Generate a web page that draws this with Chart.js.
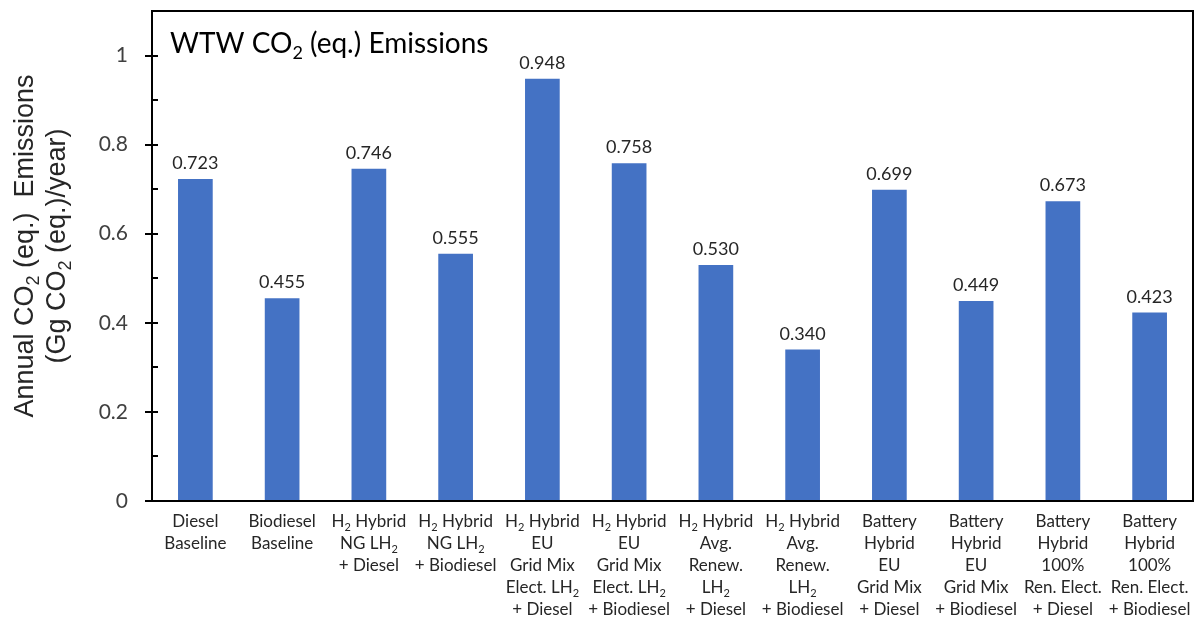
<!DOCTYPE html>
<html>
<head>
<meta charset="utf-8">
<script src="https://cdn.jsdelivr.net/npm/chart.js@4/dist/chart.umd.min.js"></script>
<style>
html,body{margin:0;padding:0;background:#fff;}
#wrap{width:1196px;height:617px;}
</style>
</head>
<body>
<div id="wrap"><canvas id="c" width="1196" height="617"></canvas></div>
<script>
const categories = [
  ["Diesel","Baseline"],
  ["Biodiesel","Baseline"],
  ["H₂ Hybrid","NG LH₂","+ Diesel"],
  ["H₂ Hybrid","NG LH₂","+ Biodiesel"],
  ["H₂ Hybrid","EU","Grid Mix","Elect. LH₂","+ Diesel"],
  ["H₂ Hybrid","EU","Grid Mix","Elect. LH₂","+ Biodiesel"],
  ["H₂ Hybrid","Avg.","Renew.","LH₂","+ Diesel"],
  ["H₂ Hybrid","Avg.","Renew.","LH₂","+ Biodiesel"],
  ["Battery","Hybrid","EU","Grid Mix","+ Diesel"],
  ["Battery","Hybrid","EU","Grid Mix","+ Biodiesel"],
  ["Battery","Hybrid","100%","Ren. Elect.","+ Diesel"],
  ["Battery","Hybrid","100%","Ren. Elect.","+ Biodiesel"]
];
const emissions = [0.723, 0.455, 0.746, 0.555, 0.948, 0.758, 0.530, 0.340, 0.699, 0.449, 0.673, 0.423];
const yTickLabels = ["0","0.2","0.4","0.6","0.8","1"];
const chartTitle = "WTW CO₂ (eq.) Emissions";
const yTitleLines = ["Annual CO₂ (eq.)  Emissions", "(Gg CO₂ (eq.)/year)"];

const LABEL_FONT = "Lato";

function richWidth(ctx, str, size, family) {
  let w = 0;
  const parts = str.split("₂");
  parts.forEach((p, i) => {
    ctx.font = size + "px " + family;
    w += ctx.measureText(p).width;
    if (i < parts.length - 1) {
      ctx.font = Math.round(size * 0.65) + "px " + family;
      w += ctx.measureText("2").width;
    }
  });
  return w;
}
function drawRich(ctx, str, x, y, size, family, align) {
  const w = richWidth(ctx, str, size, family);
  let cx = align === "center" ? x - w / 2 : (align === "right" ? x - w : x);
  ctx.textAlign = "left";
  const parts = str.split("₂");
  parts.forEach((p, i) => {
    ctx.font = size + "px " + family;
    ctx.fillText(p, cx, y);
    cx += ctx.measureText(p).width;
    if (i < parts.length - 1) {
      const ss = Math.round(size * 0.65);
      ctx.font = ss + "px " + family;
      ctx.fillText("2", cx, y + size * 0.22);
      cx += ctx.measureText("2").width;
    }
  });
}

const decor = {
  id: "decor",
  afterDraw(chart) {
    const ctx = chart.ctx;
    const a = chart.chartArea;
    const y = chart.scales.y, x = chart.scales.x;
    ctx.save();
    ctx.strokeStyle = "#000";
    ctx.lineWidth = 2;
    ctx.strokeRect(a.left, a.top, a.right - a.left, a.bottom - a.top);
    for (let k = 0; k <= 11; k++) {
      const v = k / 10;
      const py = Math.round(y.getPixelForValue(v));
      ctx.beginPath();
      if (k % 2 === 0) { ctx.moveTo(a.left - 7, py); ctx.lineTo(a.left + 6, py); }
      else { ctx.moveTo(a.left, py); ctx.lineTo(a.left + 6, py); }
      ctx.stroke();
    }
    ctx.fillStyle = "#000";
    ctx.textBaseline = "alphabetic";
    drawRich(ctx, chartTitle, a.left + 18, 53, 28, LABEL_FONT, "left");
    ctx.fillStyle = "#262626";
    categories.forEach((lines, i) => {
      const px = x.getPixelForValue(i);
      lines.forEach((ln, j) => {
        drawRich(ctx, ln, px, 527 + j * 22, 17, LABEL_FONT, "center");
      });
    });
    const meta = chart.getDatasetMeta(0);
    meta.data.forEach((bar, i) => {
      drawRich(ctx, emissions[i].toFixed(3), bar.x, bar.y - 10, 18, LABEL_FONT, "center");
    });
    ctx.fillStyle = "#262626";
    const cy = 246;
    ctx.save();
    ctx.translate(33, cy);
    ctx.rotate(-Math.PI / 2);
    drawRich(ctx, yTitleLines[0], 0, 0, 27, "Liberation Sans", "center");
    ctx.restore();
    ctx.save();
    ctx.translate(65, cy);
    ctx.rotate(-Math.PI / 2);
    drawRich(ctx, yTitleLines[1], 0, 0, 27, "Liberation Sans", "center");
    ctx.restore();
    ctx.restore();
  }
};

new Chart(document.getElementById("c"), {
  type: "bar",
  data: {
    labels: categories,
    datasets: [{
      data: emissions,
      backgroundColor: "#4472C4",
      borderWidth: 0,
      categoryPercentage: 0.8,
      barPercentage: 0.5
    }]
  },
  options: {
    responsive: false,
    devicePixelRatio: 1,
    animation: false,
    layout: { padding: { top: 11, right: 3, left: 0, bottom: 0 } },
    plugins: { legend: { display: false }, tooltip: { enabled: false } },
    scales: {
      x: {
        grid: { display: false },
        border: { display: true, color: "#000", width: 2 },
        ticks: { display: false },
        afterFit(s) { s.height = 116; s.paddingLeft = 0; s.paddingRight = 0; }
      },
      y: {
        min: 0, max: 1.1,
        grid: { display: false },
        border: { display: true, color: "#000", width: 2 },
        ticks: {
          stepSize: 0.1,
          padding: 16,
          color: "#404040",
          font: { family: LABEL_FONT, size: 21 },
          callback(v) {
            const k = Math.round(v * 10);
            return k % 2 === 0 && k / 2 < yTickLabels.length ? yTickLabels[k / 2] : "";
          }
        },
        afterFit(s) { s.width = 152; s.paddingTop = 0; s.paddingBottom = 0; }
      }
    }
  },
  plugins: [decor]
});
</script>
</body>
</html>
